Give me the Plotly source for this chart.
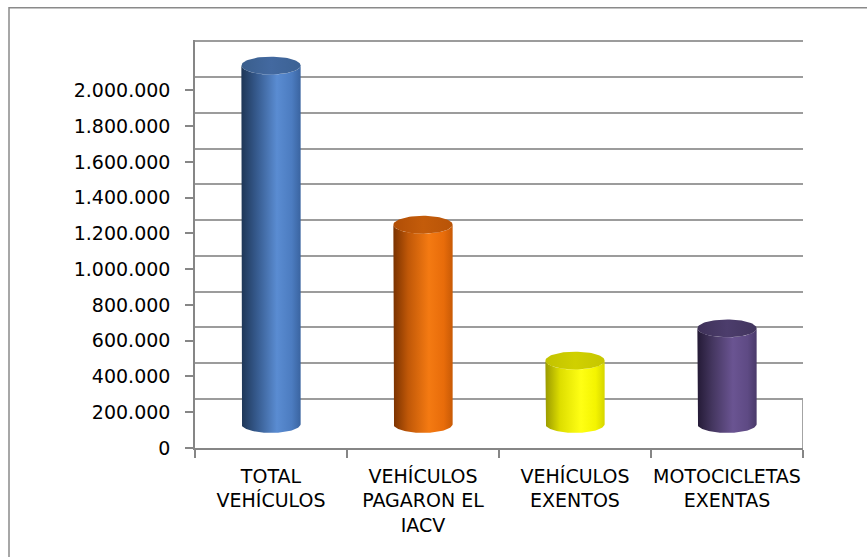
import numpy as np
import plotly.graph_objects as go

# ---------------- data ----------------
categories = ["TOTAL<br>VEHÍCULOS", "VEHÍCULOS<br>PAGARON EL<br>IACV",
              "VEHÍCULOS<br>EXENTOS", "MOTOCICLETAS<br>EXENTAS"]
values = [2005000, 1115000, 355000, 535000]
y_ticks = [0, 200000, 400000, 600000, 800000, 1000000, 1200000,
           1400000, 1600000, 1800000, 2000000]
wall_grid = [200000, 400000, 600000, 800000, 1000000, 1200000,
             1400000, 1600000, 1800000, 2000000, 2200000]

# ---------------- style ----------------
body_scales = [
    [[0, "#1e3656"], [0.25, "#35598c"], [0.6, "#5a8cd2"], [0.85, "#4c7cc0"], [1, "#3a64a0"]],
    [[0, "#7a3200"], [0.25, "#c05808"], [0.6, "#f47a12"], [0.85, "#e86c0a"], [1, "#c85a06"]],
    [[0, "#9a9a00"], [0.25, "#dede00"], [0.6, "#ffff14"], [0.85, "#f4f400"], [1, "#d6d600"]],
    [[0, "#241a36"], [0.25, "#44365f"], [0.6, "#6a5492"], [0.85, "#5e4a84"], [1, "#4a3a6a"]],
]
cap_scales = [
    [[0, "#3a5e8c"], [0.5, "#4369a0"], [1, "#3c6294"]],
    [[0, "#b04e06"], [0.5, "#c45c0a"], [1, "#b85408"]],
    [[0, "#c2c200"], [0.5, "#d0d000"], [1, "#c6c600"]],
    [[0, "#3e3158"], [0.5, "#4c3d6c"], [1, "#42355e"]],
]

BASE = 134000     # 3D lift of the cylinder bottoms
DEPTH = 74500     # back wall offset of the perspective
RX = 0.195        # cylinder radius (category units)
RY = 50000        # ellipse half-height (value units)
Y_TOP = 2282000
GRID_C = "#9c9c9c"
AXIS_C = "#868686"
FONT = "DejaVu Sans"
FS = 19

fig = go.Figure()

# invisible trace so the back-wall axis is built
fig.add_trace(go.Scatter(x=[0], y=[0], yaxis="y2", mode="markers",
                         marker=dict(opacity=0), showlegend=False, hoverinfo="skip"))

for i, v in enumerate(values):
    cx = i
    top = BASE + v
    t_bot = np.linspace(np.pi, 2 * np.pi, 60)
    t_top = np.linspace(2 * np.pi, np.pi, 60)
    xs = np.concatenate([[cx - RX], cx + RX * np.cos(t_bot), [cx + RX], cx + RX * np.cos(t_top)])
    ys = np.concatenate([[top], BASE + RY * np.sin(t_bot), [top], top + RY * np.sin(t_top)])
    fig.add_trace(go.Scatter(
        x=xs, y=ys, mode="lines", fill="toself", line=dict(width=0),
        fillgradient=dict(type="horizontal", colorscale=body_scales[i]),
        showlegend=False, hoverinfo="skip"))
    t = np.linspace(0, 2 * np.pi, 90)
    fig.add_trace(go.Scatter(
        x=cx + RX * np.cos(t), y=top + RY * np.sin(t), mode="lines", fill="toself",
        line=dict(width=0),
        fillgradient=dict(type="horizontal", colorscale=cap_scales[i]),
        showlegend=False, hoverinfo="skip"))

# floor box edge on the right
fig.add_shape(type="line", xref="x", yref="y", x0=3.5, x1=3.5, y0=0, y1=200000 + DEPTH,
              line=dict(color=AXIS_C, width=1.5), layer="below")
# outer chart frame
fig.add_shape(type="rect", xref="paper", yref="paper",
              x0=(9 - 195) / 608, x1=2, y0=-2, y1=(448 - 10) / 406,
              line=dict(color="#8a8a8a", width=1.5), fillcolor="rgba(0,0,0,0)")

fig.update_layout(
    width=867, height=557,
    margin=dict(l=195, r=64, t=40, b=109),
    paper_bgcolor="white", plot_bgcolor="white",
    separators=",.",
    font=dict(family=FONT, size=FS, color="#000000"),
    xaxis=dict(
        range=[-0.5, 3.5], tickvals=[0, 1, 2, 3], ticktext=categories,
        ticks="", showgrid=False, zeroline=False,
        showline=True, linecolor=AXIS_C, linewidth=1.5,
        ticklabelstandoff=10,
        tickfont=dict(family=FONT, size=FS, color="#000000"),
        minor=dict(tickvals=[-0.5, 0.5, 1.5, 2.5, 3.5], ticks="outside",
                   ticklen=8, tickcolor=AXIS_C, tickwidth=1.5, showgrid=False),
    ),
    yaxis=dict(
        range=[0, Y_TOP], tickvals=y_ticks, tickformat=",d",
        ticks="outside", ticklen=8, tickcolor=AXIS_C, tickwidth=1.5,
        showgrid=False, zeroline=False,
        showline=True, linecolor=AXIS_C, linewidth=1.5,
        ticklabelstandoff=11,
        tickfont=dict(family=FONT, size=FS, color="#000000"),
    ),
    yaxis2=dict(
        overlaying="y", range=[-DEPTH, Y_TOP - DEPTH], tickvals=wall_grid,
        showticklabels=False, ticks="", showgrid=True, gridcolor=GRID_C, gridwidth=2,
        zeroline=False, showline=False, layer="below traces",
    ),
)

fig.write_html("out.html")
